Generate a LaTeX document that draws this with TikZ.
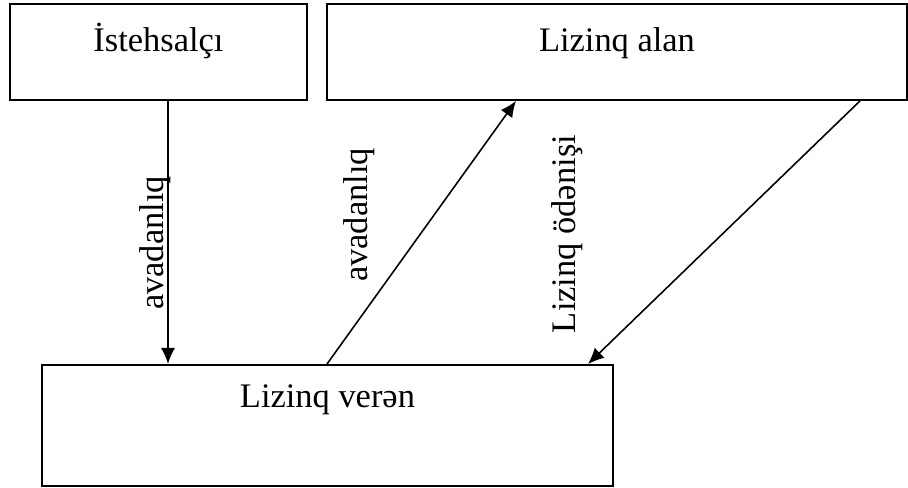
\documentclass[tikz,border=0pt]{standalone}
\usepackage{fontspec}
\setmainfont{Liberation Serif}
\usepackage{tikz}
\usetikzlibrary{arrows.meta, positioning, calc}

\begin{document}
\begin{tikzpicture}[font=\fontsize{19.6pt}{23pt}\selectfont,
  box/.style={draw, line width=1.1pt, inner sep=0pt, anchor=north west},
  flow/.style={line width=0.9pt, -{Latex[length=0.32cm, width=0.28cm]}},
  vlabel/.style={rotate=90, anchor=base, inner sep=0pt}]

  \useasboundingbox (0,0) rectangle (18.16,9.76);

  % --- Boxes ---
  \node[box, minimum width=5.94cm, text height=0.96cm, text depth=0.96cm]
    (istehsalci) at (0.18,9.70) {İstehsalçı};
  \node[box, minimum width=11.6cm, text height=0.96cm, text depth=0.96cm]
    (alan) at (6.52,9.70) {Lizinq alan};
  \node[box, minimum width=11.42cm, text height=0.86cm, text depth=1.56cm]
    (veren) at (0.82,2.48) {Lizinq verən};

  % --- Flows ---
  \draw[flow] ([xshift=3.18cm]istehsalci.south west)
    -- ([xshift=2.54cm]veren.north west);
  \draw[flow] ([xshift=5.72cm]veren.north west)
    -- ([xshift=3.8cm]alan.south west);
  \draw[flow] ([xshift=10.68cm]alan.south west)
    -- ([xshift=10.94cm]veren.north west);

  % --- Labels ---
  \node[vlabel] (avad1) at (3.26,4.90) {avadanlıq};
  \node[vlabel] (avad2) at (7.34,5.46) {avadanlıq};
  \node[vlabel] (odenis) at (11.5,5.08) {Lizinq ödənişi};

\end{tikzpicture}
\end{document}
